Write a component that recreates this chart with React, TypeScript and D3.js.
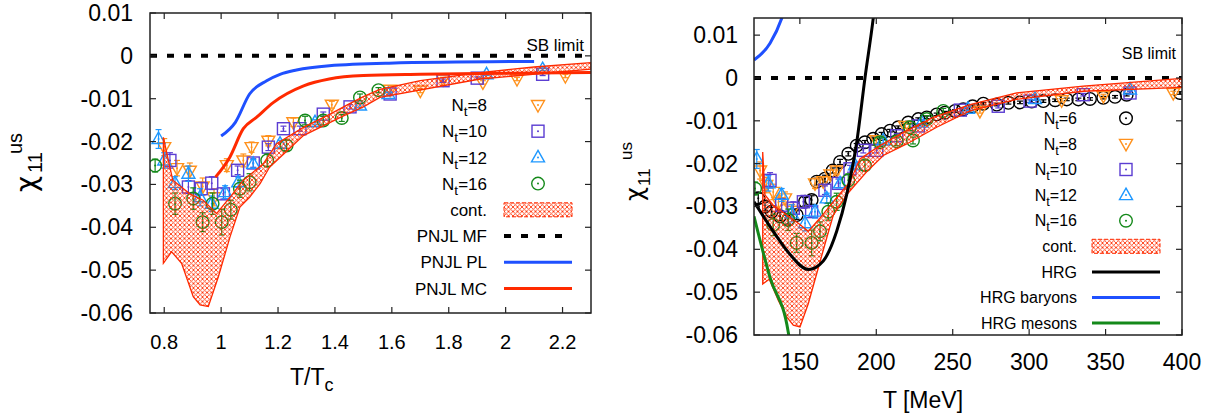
import React from "react";
import * as d3 from "d3";

type P = [number, number];
type E = [number, number, number]; // x, value, error

const FONT = "'Liberation Sans', Arial, Helvetica, sans-serif";
const GREEK = "'DejaVu Sans', 'Liberation Sans', sans-serif";

const RED = "#ff2a00";
const BLUE = "#1f50ff";
const GREEN = "#14891a";
const ORANGE = "#ff911c";
const PURPLE = "#5b3dd2";
const SKY = "#1e98ff";

// ---------- shared y axis ----------
const yTickValues = [0.01, 0, -0.01, -0.02, -0.03, -0.04, -0.05, -0.06];
const yTickLabels = ["0.01", "0", "-0.01", "-0.02", "-0.03", "-0.04", "-0.05", "-0.06"];

// ---------- left panel (T/Tc) ----------
const leftXTicks = [0.8, 1, 1.2, 1.4, 1.6, 1.8, 2, 2.2];
const leftXLabels = ["0.8", "1", "1.2", "1.4", "1.6", "1.8", "2", "2.2"];

const leftNt8: E[] = [
  [0.8, -0.0213, 0.002], [0.845, -0.0262, 0.0018], [0.89, -0.0268, 0.0018], [0.935, -0.0305, 0.002],
  [0.975, -0.033, 0.002], [1.02, -0.0255, 0.0015], [1.078, -0.0244, 0.0015], [1.107, -0.0213, 0.0012],
  [1.166, -0.0198, 0.0012], [1.254, -0.0155, 0.001], [1.389, -0.0114, 0.0008], [1.594, -0.0079, 0.0006],
  [1.7, -0.0081, 0.0005], [1.78, -0.0055, 0.0005], [1.92, -0.0062, 0.0004], [2.04, -0.0054, 0.0004],
  [2.21, -0.0047, 0.0004],
];
const leftNt10: E[] = [
  [0.82, -0.0244, 0.0018], [0.885, -0.0306, 0.0015], [0.93, -0.031, 0.0015], [0.967, -0.0297, 0.0015],
  [1.008, -0.0322, 0.0012], [1.058, -0.0267, 0.001], [1.113, -0.025, 0.001], [1.166, -0.0213, 0.0008],
  [1.219, -0.017, 0.0006], [1.277, -0.017, 0.0006], [1.359, -0.0136, 0.0005], [1.453, -0.0119, 0.0005],
  [1.594, -0.0089, 0.0004], [1.78, -0.0058, 0.0004], [1.9, -0.0052, 0.0003], [2.13, -0.0043, 0.0003],
];
const leftNt12: E[] = [
  [0.78, -0.0194, 0.0022], [0.8, -0.0244, 0.0018], [0.838, -0.0297, 0.0015], [0.885, -0.0275, 0.0018],
  [0.926, -0.033, 0.002], [0.967, -0.0345, 0.0018], [1.014, -0.0318, 0.0015], [1.06, -0.0295, 0.0012],
  [1.113, -0.0252, 0.001], [1.207, -0.0205, 0.0008], [1.33, -0.0155, 0.0006], [1.488, -0.0116, 0.0005],
  [1.588, -0.0089, 0.0004], [1.933, -0.0043, 0.0003], [2.13, -0.0031, 0.0003],
];
const leftNt16: E[] = [
  [0.768, -0.0256, 0.0015], [0.838, -0.0345, 0.0025], [0.902, -0.0333, 0.0025], [0.935, -0.0388, 0.0022],
  [0.97, -0.0345, 0.0025], [1.002, -0.0388, 0.003], [1.034, -0.0359, 0.0022], [1.066, -0.031, 0.002],
  [1.1, -0.0295, 0.002], [1.162, -0.0244, 0.0015], [1.23, -0.0209, 0.0012], [1.295, -0.0151, 0.001],
  [1.359, -0.0151, 0.001], [1.424, -0.0145, 0.0008], [1.488, -0.0097, 0.0008], [1.553, -0.008, 0.0006],
];
const leftBandUpper: P[] = [
  [0.797, -0.019], [0.83, -0.029], [0.89, -0.0322], [0.937, -0.0337], [0.984, -0.0368], [1.031, -0.033],
  [1.078, -0.029], [1.148, -0.0252], [1.195, -0.0205], [1.289, -0.0167], [1.383, -0.0136], [1.45, -0.0112],
  [1.5, -0.0095], [1.558, -0.0078], [1.7, -0.0058], [1.91, -0.0039], [2.1, -0.0026], [2.3, -0.0016],
];
const leftBandLower: P[] = [
  [0.797, -0.0484], [0.826, -0.0457], [0.861, -0.0484], [0.902, -0.0562], [0.926, -0.0581], [0.955, -0.0585],
  [0.99, -0.0516], [1.031, -0.0423], [1.066, -0.0353], [1.1, -0.033], [1.137, -0.0298], [1.17, -0.026],
  [1.22, -0.0229], [1.289, -0.0186], [1.43, -0.014], [1.5, -0.0119], [1.558, -0.0097], [1.91, -0.0054],
  [2.3, -0.0031],
];
const pnjlPL: P[] = [
  [1.0, -0.0187], [1.05, -0.0155], [1.1, -0.0089], [1.16, -0.0058], [1.207, -0.0043], [1.265, -0.0033],
  [1.38, -0.0023], [1.59, -0.0017], [2.1, -0.0013],
];
const pnjlMC: P[] = [
  [0.98, -0.0283], [1.03, -0.0237], [1.078, -0.017], [1.125, -0.0143], [1.183, -0.0109], [1.29, -0.007],
  [1.38, -0.0054], [1.5, -0.0046], [1.7, -0.0043], [1.91, -0.0041], [2.3, -0.0039],
];

// ---------- right panel (T in MeV) ----------
const rightXTicks = [150, 200, 250, 300, 350, 400];

const rightNt6: E[] = [
  [122.8, -0.0281, 0.0012], [127.2, -0.03, 0.001], [131.6, -0.0312, 0.001], [137, -0.0323, 0.001],
  [142.4, -0.0331, 0.001], [147.9, -0.032, 0.001], [153.4, -0.0289, 0.001], [157.7, -0.0285, 0.001],
  [161, -0.0242, 0.0008], [166.4, -0.0235, 0.0008], [171.5, -0.0216, 0.0006], [176.3, -0.0196, 0.0006],
  [181.7, -0.0177, 0.0005], [187.2, -0.0158, 0.0005], [192.6, -0.015, 0.0004], [198, -0.0142, 0.0004],
  [203.5, -0.0131, 0.0004], [209, -0.0123, 0.0003], [214.4, -0.0115, 0.0003], [220.9, -0.0104, 0.0003],
  [227.5, -0.0096, 0.0003], [233, -0.0092, 0.0003], [239.5, -0.0085, 0.0003], [244.9, -0.0081, 0.0003],
  [251.5, -0.0077, 0.0003], [256.9, -0.0073, 0.0003], [263, -0.0066, 0.0003], [270, -0.006, 0.0003],
  [278.8, -0.0062, 0.0003], [286.4, -0.0058, 0.0003], [294, -0.0057, 0.0003], [301.7, -0.0055, 0.0003],
  [309.3, -0.0054, 0.0003], [317, -0.0052, 0.0003], [324.6, -0.005, 0.0003], [332.2, -0.005, 0.0003],
  [339.8, -0.0049, 0.0003], [348.5, -0.0046, 0.0003], [356.2, -0.0044, 0.0003], [363.8, -0.0039, 0.0003],
  [398.7, -0.0035, 0.0003],
];
const rightNt8: E[] = [
  [124, -0.0216, 0.002], [128, -0.025, 0.0018], [132.6, -0.0266, 0.0018], [136, -0.029, 0.0015],
  [140.3, -0.0281, 0.0015], [145, -0.031, 0.0015], [159.9, -0.0246, 0.0012], [165.3, -0.0241, 0.001],
  [170, -0.0225, 0.001], [174.1, -0.0216, 0.001], [200, -0.0145, 0.0008], [218.8, -0.0112, 0.0006],
  [267.8, -0.0077, 0.0005], [321.3, -0.0052, 0.0004], [348.6, -0.0042, 0.0004], [394.3, -0.0035, 0.0004],
];
const rightNt10: E[] = [
  [130.5, -0.0239, 0.0018], [138.1, -0.0297, 0.0015], [145.7, -0.0304, 0.0015], [152.3, -0.0289, 0.0015],
  [157.7, -0.0312, 0.0012], [166.4, -0.0262, 0.001], [175.2, -0.0246, 0.001], [182.8, -0.0212, 0.0008],
  [191.5, -0.0169, 0.0006], [200.3, -0.0169, 0.0006], [213.4, -0.0135, 0.0005], [227.5, -0.0112, 0.0005],
  [255, -0.0075, 0.0004], [279.8, -0.0066, 0.0004], [300.6, -0.0054, 0.0003], [335.4, -0.0039, 0.0003],
  [366, -0.0035, 0.0003],
];
const rightNt12: E[] = [
  [121.8, -0.0189, 0.0022], [129.4, -0.0246, 0.0018], [138.1, -0.0273, 0.0015], [144.6, -0.0316, 0.002],
  [153.4, -0.0339, 0.0018], [159.9, -0.0312, 0.0015], [167.6, -0.0281, 0.0012], [176.3, -0.0246, 0.001],
  [186.1, -0.0204, 0.0008], [204.6, -0.0146, 0.0006], [229.7, -0.0104, 0.0005], [260, -0.0072, 0.0004],
  [303.8, -0.0049, 0.0003], [366, -0.0027, 0.0003],
];
const rightNt16: E[] = [
  [120.7, -0.0258, 0.0015], [132.6, -0.0343, 0.0025], [142.4, -0.0331, 0.0025], [147.9, -0.0385, 0.0022],
  [157.7, -0.0385, 0.003], [163.2, -0.0358, 0.0022], [168.6, -0.0312, 0.002], [174.1, -0.0289, 0.002],
  [181.7, -0.0239, 0.0015], [192.6, -0.0204, 0.0012], [202.4, -0.015, 0.001], [213.4, -0.0148, 0.001],
  [222, -0.0115, 0.0008], [224, -0.0146, 0.0008], [233, -0.0096, 0.0008], [243.8, -0.0077, 0.0006],
];
const rightBandUpper: P[] = [
  [125.7, -0.0173], [127.2, -0.0273], [132.6, -0.0297], [141.4, -0.032], [149, -0.0339], [155.5, -0.0358],
  [163.2, -0.0327], [171.9, -0.0289], [182.8, -0.0242], [189.3, -0.0189], [202.4, -0.0158], [217.7, -0.0127],
  [237.3, -0.0092], [261.3, -0.0062], [291.8, -0.0035], [335.4, -0.0019], [400, -0.0001],
];
const rightBandLower: P[] = [
  [125.7, -0.0481], [130, -0.047], [136, -0.052], [141.4, -0.0558], [145.7, -0.0577], [150.1, -0.0581],
  [155.5, -0.0527], [162.1, -0.0443], [167.6, -0.0373], [171.9, -0.032], [180.6, -0.0273], [186.1, -0.025],
  [193.7, -0.0219], [204.6, -0.0181], [219.9, -0.0154], [239.5, -0.0115], [261.3, -0.0077], [291.8, -0.005],
  [335.4, -0.0031], [400, -0.0022],
];
const hrg: P[] = [
  [120, -0.0289], [132.6, -0.0358], [143.6, -0.0412], [155.5, -0.0447], [165.3, -0.0427], [174.1, -0.0358],
  [180.6, -0.0273], [187.2, -0.015], [192.6, 0], [198, 0.0139], [200, 0.02],
];
const hrgBaryons: P[] = [[120, 0.0042], [130.5, 0.0081], [138.1, 0.0139], [140, 0.016]];
const hrgMesons: P[] = [[120, -0.0323], [130.5, -0.0466], [142.4, -0.0593], [144, -0.063]];

type Kind = "circle" | "square" | "up" | "down";

function Marker({ kind, x, y, color }: { kind: Kind; x: number; y: number; color: string }) {
  const sw = 1.4;
  let shape: React.ReactNode = null;
  if (kind === "circle") shape = <circle cx={x} cy={y} r={6.3} fill="none" stroke={color} strokeWidth={sw} />;
  if (kind === "square") shape = <rect x={x - 6} y={y - 6} width={12} height={12} fill="none" stroke={color} strokeWidth={sw} />;
  if (kind === "up") shape = <path d={`M${x},${y - 7}L${x + 6.5},${y + 4.5}L${x - 6.5},${y + 4.5}Z`} fill="none" stroke={color} strokeWidth={sw} />;
  if (kind === "down") shape = <path d={`M${x},${y + 7}L${x + 6.5},${y - 4.5}L${x - 6.5},${y - 4.5}Z`} fill="none" stroke={color} strokeWidth={sw} />;
  return (
    <g>
      {shape}
      <circle cx={x} cy={y} r={1} fill={color} />
    </g>
  );
}

type Series = { label: string; sub: string; data: E[]; kind: Kind; color: string };
type Curve = { label: string; data: P[]; color: string; dashed?: boolean };

type PanelProps = {
  id: string;
  left: number; right: number; top: number; bottom: number;
  xDomain: [number, number]; yDomain: [number, number];
  xTicks: number[]; xLabels: string[]; xLabelY: number; xLabelSize: number;
  yLabelX: number;
  series: Series[];
  bandUpper: P[]; bandLower: P[];
  curves: Curve[];
  legendTextX: number; legendSymX: number; legendY0: number; legendStep: number; legendSize: number;
  sbX: number; sbY: number;
  xTitle: React.ReactNode;
  yTitle: { chiX: number; chiY: number; subX: number; subY: number; supX: number; supY: number; size: number; subSize: number };
};

function Panel(p: PanelProps) {
  const x = d3.scaleLinear().domain(p.xDomain).range([p.left, p.right]);
  const y = d3.scaleLinear().domain(p.yDomain).range([p.bottom, p.top]);
  const line = d3.line<P>().x((d) => x(d[0])).y((d) => y(d[1])).curve(d3.curveMonotoneX);
  const band = [...p.bandUpper, ...p.bandLower.slice().reverse()];
  const bandPath = d3.line<P>().x((d) => x(d[0])).y((d) => y(d[1]))(band) + "Z";
  const tick = 6;

  // legend rows: series, cont., curves
  const rowY = (i: number) => p.legendY0 + i * p.legendStep;
  const nS = p.series.length;

  return (
    <g>
      <defs>
        <clipPath id={`clip-${p.id}`}>
          <rect x={p.left} y={p.top} width={p.right - p.left} height={p.bottom - p.top} />
        </clipPath>
      </defs>

      <g clipPath={`url(#clip-${p.id})`}>
        {/* SB limit */}
        <line x1={p.left} x2={p.right} y1={y(0)} y2={y(0)} stroke="#000" strokeWidth={4} strokeDasharray="7 10" />

        {p.series.map((s) => (
          <g key={s.label}>
            {s.data.map((d, i) => (
              <g key={i} stroke={s.color} strokeWidth={1.2}>
                <line x1={x(d[0])} x2={x(d[0])} y1={y(d[1] - d[2])} y2={y(d[1] + d[2])} />
                <line x1={x(d[0]) - 3} x2={x(d[0]) + 3} y1={y(d[1] - d[2])} y2={y(d[1] - d[2])} />
                <line x1={x(d[0]) - 3} x2={x(d[0]) + 3} y1={y(d[1] + d[2])} y2={y(d[1] + d[2])} />
              </g>
            ))}
            {s.data.map((d, i) => (
              <Marker key={i} kind={s.kind} x={x(d[0])} y={y(d[1])} color={s.color} />
            ))}
          </g>
        ))}

        <path d={bandPath} fill="url(#hatch)" stroke={RED} strokeWidth={1.3} />

        {p.curves.filter((c) => !c.dashed).map((c) => (
          <path key={c.label} d={line(c.data) || ""} fill="none" stroke={c.color} strokeWidth={3} />
        ))}
      </g>

      {/* frame */}
      <rect x={p.left} y={p.top} width={p.right - p.left} height={p.bottom - p.top} fill="none" stroke="#222" strokeWidth={1.5} />

      {/* ticks */}
      {p.xTicks.map((t) => (
        <g key={t} stroke="#222" strokeWidth={1.2}>
          <line x1={x(t)} x2={x(t)} y1={p.bottom} y2={p.bottom - tick} />
          <line x1={x(t)} x2={x(t)} y1={p.top} y2={p.top + tick} />
        </g>
      ))}
      {yTickValues.map((t) => (
        <g key={t} stroke="#222" strokeWidth={1.2}>
          <line x1={p.left} x2={p.left + tick} y1={y(t)} y2={y(t)} />
          <line x1={p.right} x2={p.right - tick} y1={y(t)} y2={y(t)} />
        </g>
      ))}

      {/* tick labels */}
      <g fontFamily={FONT} fill="#000">
        {p.xTicks.map((t, i) => (
          <text key={t} x={x(t)} y={p.xLabelY} fontSize={p.xLabelSize} textAnchor="middle">{p.xLabels[i]}</text>
        ))}
        {yTickValues.map((t, i) => (
          <text key={t} x={p.yLabelX} y={y(t) + 8} fontSize={23} textAnchor="end">{yTickLabels[i]}</text>
        ))}
      </g>

      {/* axis titles */}
      <g fontFamily={FONT} fill="#000">
        {p.xTitle}
        <text transform={`translate(${p.yTitle.chiX},${p.yTitle.chiY}) rotate(-90)`} fontSize={p.yTitle.size} fontFamily={GREEK}>χ</text>
        <text transform={`translate(${p.yTitle.subX},${p.yTitle.subY}) rotate(-90)`} fontSize={p.yTitle.subSize}>11</text>
        <text transform={`translate(${p.yTitle.supX},${p.yTitle.supY}) rotate(-90)`} fontSize={p.yTitle.subSize}>us</text>
      </g>

      {/* SB limit label */}
      <text x={p.sbX} y={p.sbY} fontFamily={FONT} fontSize={p.legendSize} textAnchor="end">SB limit</text>

      {/* legend */}
      <g fontFamily={FONT} fontSize={p.legendSize}>
        {p.series.map((s, i) => (
          <g key={s.label}>
            <text x={p.legendTextX} y={rowY(i) + p.legendSize * 0.36} textAnchor="end">
              N<tspan dy={5} fontSize={p.legendSize * 0.8}>t</tspan>
              <tspan dy={-5}>={s.sub}</tspan>
            </text>
            <Marker kind={s.kind} x={p.legendSymX} y={rowY(i)} color={s.color} />
          </g>
        ))}
        <text x={p.legendTextX} y={rowY(nS) + p.legendSize * 0.36} textAnchor="end">cont.</text>
        <rect x={p.legendSymX - 34} y={rowY(nS) - 7} width={68} height={14} fill="url(#hatch)" stroke={RED} strokeWidth={1} strokeDasharray="4 2" />
        {p.curves.map((c, i) => (
          <g key={c.label}>
            <text x={p.legendTextX} y={rowY(nS + 1 + i) + p.legendSize * 0.36} textAnchor="end">{c.label}</text>
            <line x1={p.legendSymX - 34} x2={p.legendSymX + 34} y1={rowY(nS + 1 + i)} y2={rowY(nS + 1 + i)}
              stroke={c.color} strokeWidth={c.dashed ? 4 : 3} strokeDasharray={c.dashed ? "7 10" : undefined} />
          </g>
        ))}
      </g>
    </g>
  );
}

export default function App() {
  const leftSeries: Series[] = [
    { label: "Nt8", sub: "8", data: leftNt8, kind: "down", color: ORANGE },
    { label: "Nt10", sub: "10", data: leftNt10, kind: "square", color: PURPLE },
    { label: "Nt12", sub: "12", data: leftNt12, kind: "up", color: SKY },
    { label: "Nt16", sub: "16", data: leftNt16, kind: "circle", color: GREEN },
  ];
  const rightSeries: Series[] = [
    { label: "Nt6", sub: "6", data: rightNt6, kind: "circle", color: "#000" },
    { label: "Nt8", sub: "8", data: rightNt8, kind: "down", color: ORANGE },
    { label: "Nt10", sub: "10", data: rightNt10, kind: "square", color: PURPLE },
    { label: "Nt12", sub: "12", data: rightNt12, kind: "up", color: SKY },
    { label: "Nt16", sub: "16", data: rightNt16, kind: "circle", color: GREEN },
  ];

  return (
    <svg width={1221} height={418} style={{ position: "absolute", left: 0, top: 0, background: "#fff" }}>
      <defs>
        <pattern id="hatch" patternUnits="userSpaceOnUse" width={4.5} height={4.5}>
          <path d="M0,0L4.5,4.5M4.5,0L0,4.5" stroke="#ff3a10" strokeWidth={0.9} />
        </pattern>
      </defs>

      <Panel
        id="l" left={150} right={591} top={13} bottom={313}
        xDomain={[0.75, 2.3]} yDomain={[-0.06, 0.01]}
        xTicks={leftXTicks} xLabels={leftXLabels} xLabelY={349} xLabelSize={20}
        yLabelX={133}
        series={leftSeries}
        bandUpper={leftBandUpper} bandLower={leftBandLower}
        curves={[
          { label: "PNJL MF", data: [], color: "#000", dashed: true },
          { label: "PNJL PL", data: pnjlPL, color: BLUE },
          { label: "PNJL MC", data: pnjlMC, color: RED },
        ]}
        legendTextX={487} legendSymX={538} legendY0={105} legendStep={26.2} legendSize={17}
        sbX={584} sbY={51}
        xTitle={
          <text x={290} y={385} fontSize={23}>T/T<tspan dy={6} fontSize={18}>c</tspan></text>
        }
        yTitle={{ chiX: 36, chiY: 192, subX: 42, subY: 173, supX: 22, supY: 154, size: 28, subSize: 20 }}
      />

      <Panel
        id="r" left={754} right={1182} top={18} bottom={335}
        xDomain={[120, 400]} yDomain={[-0.06, 0.014]}
        xTicks={rightXTicks} xLabels={rightXTicks.map(String)} xLabelY={370} xLabelSize={23}
        yLabelX={738}
        series={rightSeries}
        bandUpper={rightBandUpper} bandLower={rightBandLower}
        curves={[
          { label: "HRG", data: hrg, color: "#000" },
          { label: "HRG baryons", data: hrgBaryons, color: BLUE },
          { label: "HRG mesons", data: hrgMesons, color: GREEN },
        ]}
        legendTextX={1077} legendSymX={1126} legendY0={118.3} legendStep={25.6} legendSize={16}
        sbX={1176} sbY={59}
        xTitle={<text x={923} y={408} fontSize={23} textAnchor="middle">T [MeV]</text>}
        yTitle={{ chiX: 643, chiY: 201, subX: 650, subY: 186, supX: 632, supY: 160, size: 24, subSize: 17 }}
      />
    </svg>
  );
}
